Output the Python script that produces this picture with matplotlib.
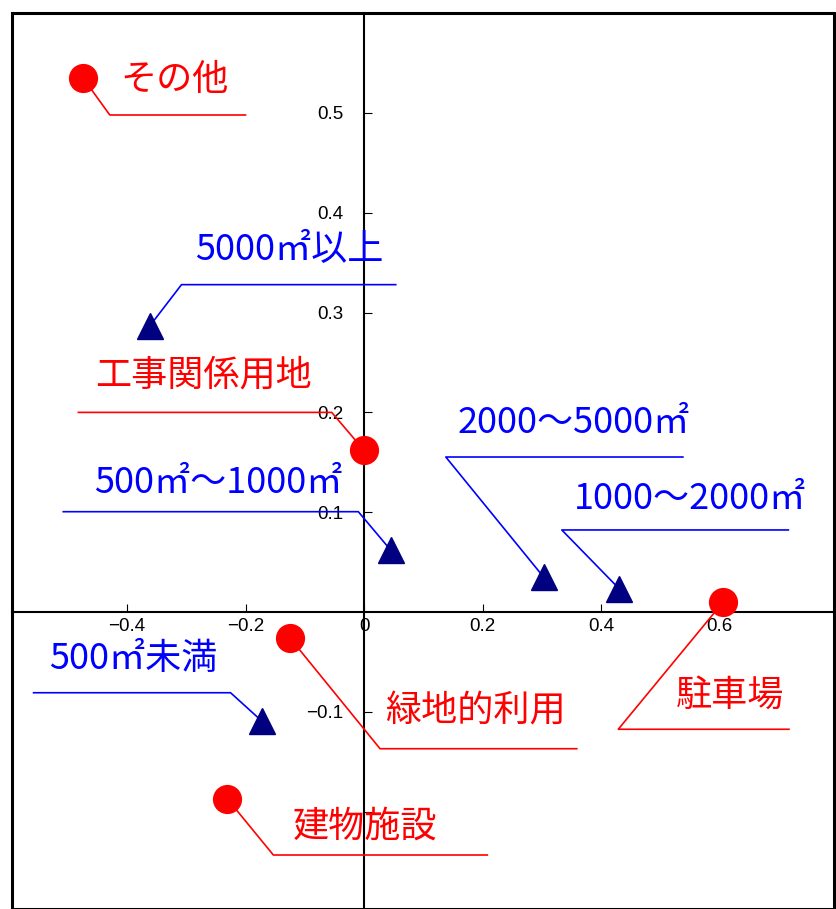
"""Correspondence-analysis style scatter: land-use categories vs. lot size."""

import matplotlib
matplotlib.use("Agg")
import matplotlib.pyplot as plt
from matplotlib.patches import Rectangle

plt.rcParams["font.family"] = ["Noto Sans CJK JP", "DejaVu Sans"]

# land-use categories (red circles)
use_labels = ["その他", "工事関係用地", "駐車場", "緑地的利用", "建物施設"]
use_x = [-0.474, 0.000, 0.606, -0.125, -0.231]
use_y = [0.535, 0.162, 0.010, -0.026, -0.187]

# lot-size classes (navy triangles)
size_labels = ["5000㎡以上", "500㎡～1000㎡", "2000～5000㎡", "1000～2000㎡", "500㎡未満"]
size_x = [-0.361, 0.045, 0.303, 0.431, -0.173]
size_y = [0.287, 0.062, 0.035, 0.023, -0.109]

x_ticks = [-0.4, -0.2, 0.0, 0.2, 0.4, 0.6]
x_ticklabels = ["\u22120.4", "\u22120.2", "0", "0.2", "0.4", "0.6"]
y_ticks = [-0.2, -0.1, 0.1, 0.2, 0.3, 0.4, 0.5]
y_ticklabels = ["", "\u22120.1", "0.1", "0.2", "0.3", "0.4", "0.5"]

# label placement: text (left x, center y), leader elbow (x, y), leader end x
use_layout = [
    ((-0.412, 0.533), (-0.429, 0.498), -0.200),
    ((-0.453, 0.237), (-0.0545, 0.200), -0.482),
    ((0.526, -0.084), (0.429, -0.1175), 0.717),
    ((0.036, -0.100), (0.027, -0.137), 0.359),
    ((-0.1205, -0.215), (-0.153, -0.2435), 0.208),
]
size_layout = [
    ((-0.285, 0.363), (-0.308, 0.328), 0.0535),
    ((-0.455, 0.129), (-0.0096, 0.1005), -0.5075),
    ((0.1575, 0.189), (0.138, 0.1553), 0.538),
    ((0.354, 0.1135), (0.3337, 0.0822), 0.716),
    ((-0.532, -0.047), (-0.2252, -0.0809), -0.5576),
]

W, H = 837, 909
fig = plt.figure(figsize=(W / 100, H / 100), dpi=100)
ax = fig.add_axes([12 / W, 0, 822 / W, 896 / H])
ax.set_xlim(-0.594, 0.793)
ax.set_ylim(-0.2976, 0.6002)


def draw_group(xs, ys, labels, layout, marker, mcolor, tcolor, ms):
    for x, y, lab, (tpos, elbow, xend) in zip(xs, ys, labels, layout):
        ax.plot([x, elbow[0], xend], [y, elbow[1], elbow[1]],
                color=tcolor, lw=1.2, zorder=3, clip_on=False)
        ax.plot([x], [y], marker=marker, color=mcolor, ms=ms, ls="none", zorder=4)
        ax.text(tpos[0], tpos[1], lab, color=tcolor, fontsize=26,
                ha="left", va="center", zorder=5)


draw_group(use_x, use_y, use_labels, use_layout, "o", "#ff0000", "#ff0000", 20)
draw_group(size_x, size_y, size_labels, size_layout, "^", "#000080", "#0000ff", 19)

# axes through origin
for side in ["top", "right"]:
    ax.spines[side].set_visible(False)
for side in ["left", "bottom"]:
    ax.spines[side].set_position(("data", 0))
    ax.spines[side].set_linewidth(1.5)
    ax.spines[side].set_zorder(2)

ax.set_xticks(x_ticks)
ax.set_xticklabels(x_ticklabels)
ax.set_yticks(y_ticks)
ax.set_yticklabels(y_ticklabels)
ax.tick_params(axis="x", direction="in", length=6, width=0.8, pad=4,
               labelsize=13.5, labelfontfamily="Liberation Sans")
ax.tick_params(axis="y", direction="in", length=6, width=0.8, pad=15,
               labelsize=13.5, labelfontfamily="Liberation Sans")

# outer frame
ax.add_patch(Rectangle((0, 0), 1, 1, transform=ax.transAxes, fill=False,
                       lw=2.2, ec="black", clip_on=False, zorder=6))

fig.savefig("out.png", dpi=100)
